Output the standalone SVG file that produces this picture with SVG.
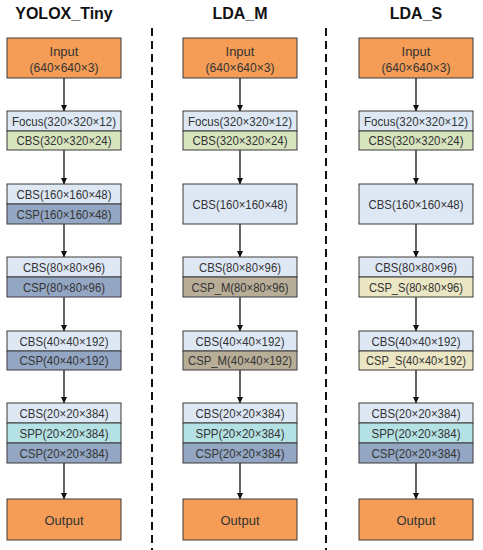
<svg xmlns="http://www.w3.org/2000/svg" width="483" height="550" viewBox="0 0 483 550">
<style>
.t{font-family:"Liberation Sans",Arial,sans-serif;font-size:13px;fill:#333;text-anchor:middle;dominant-baseline:central}
.h{font-family:"Liberation Sans",Arial,sans-serif;font-size:16px;font-weight:bold;fill:#111;text-anchor:middle}
.b{stroke:#3a3a3a;stroke-width:1}
.or{fill:#F59D56}.lb{fill:#DEE8F5}.gr{fill:#D8E4BE}.cs{fill:#93A7C4}.sp{fill:#B4E1E3}.cm{fill:#B8AD97}.cv{fill:#EBE6C4}
.c{stroke:#111;stroke-width:1.3;fill:none;marker-end:url(#a)}
.d{stroke:#111;stroke-width:2;stroke-dasharray:8,5}
</style>
<defs><marker id="a" markerWidth="7" markerHeight="7" refX="6" refY="3.5" orient="auto" markerUnits="userSpaceOnUse"><path d="M0,0.5L6.5,3.5L0,6.5z" fill="#111"/></marker></defs>
<rect width="483" height="550" fill="#fff"/>
<g id="titles">
<text class="h" x="64" y="19">YOLOX_Tiny</text>
<text class="h" x="240" y="19">LDA_M</text>
<text class="h" x="416" y="19">LDA_S</text>
</g>
<g id="dividers">
<line class="d" x1="152" y1="28" x2="152" y2="550"/>
<line class="d" x1="326" y1="28" x2="326" y2="550"/>
</g>
<g id="connectors">
<line class="c" x1="64" y1="78" x2="64" y2="111"/>
<line class="c" x1="64" y1="150" x2="64" y2="184"/>
<line class="c" x1="64" y1="224" x2="64" y2="257"/>
<line class="c" x1="64" y1="297" x2="64" y2="331"/>
<line class="c" x1="64" y1="370" x2="64" y2="403"/>
<line class="c" x1="64" y1="463" x2="64" y2="499"/>
<line class="c" x1="240" y1="78" x2="240" y2="111"/>
<line class="c" x1="240" y1="150" x2="240" y2="184"/>
<line class="c" x1="240" y1="224" x2="240" y2="257"/>
<line class="c" x1="240" y1="297" x2="240" y2="331"/>
<line class="c" x1="240" y1="370" x2="240" y2="403"/>
<line class="c" x1="240" y1="463" x2="240" y2="499"/>
<line class="c" x1="416" y1="78" x2="416" y2="111"/>
<line class="c" x1="416" y1="150" x2="416" y2="184"/>
<line class="c" x1="416" y1="224" x2="416" y2="257"/>
<line class="c" x1="416" y1="297" x2="416" y2="331"/>
<line class="c" x1="416" y1="370" x2="416" y2="403"/>
<line class="c" x1="416" y1="463" x2="416" y2="499"/>
</g>
<!-- Column 1 -->
<g id="y_input"><rect class="b or" x="7" y="38" width="114" height="40"/><text class="t" x="64" y="51">Input</text><text class="t" x="64" y="67" textLength="69" lengthAdjust="spacingAndGlyphs">(640×640×3)</text></g>
<g id="y_stem"><rect class="b lb" x="7" y="111" width="114" height="20"/><rect class="b gr" x="7" y="131" width="114" height="19"/><text class="t" x="64" y="121" textLength="104" lengthAdjust="spacingAndGlyphs">Focus(320×320×12)</text><text class="t" x="64" y="140.5" textLength="95" lengthAdjust="spacingAndGlyphs">CBS(320×320×24)</text></g>
<g id="y_s2"><rect class="b lb" x="7" y="184" width="114" height="20"/><rect class="b cs" x="7" y="204" width="114" height="20"/><text class="t" x="64" y="194" textLength="95" lengthAdjust="spacingAndGlyphs">CBS(160×160×48)</text><text class="t" x="64" y="214" textLength="95" lengthAdjust="spacingAndGlyphs">CSP(160×160×48)</text></g>
<g id="y_s3"><rect class="b lb" x="7" y="257" width="114" height="20"/><rect class="b cs" x="7" y="277" width="114" height="20"/><text class="t" x="64" y="267" textLength="82" lengthAdjust="spacingAndGlyphs">CBS(80×80×96)</text><text class="t" x="64" y="287" textLength="82" lengthAdjust="spacingAndGlyphs">CSP(80×80×96)</text></g>
<g id="y_s4"><rect class="b lb" x="7" y="331" width="114" height="20"/><rect class="b cs" x="7" y="351" width="114" height="19"/><text class="t" x="64" y="341" textLength="89" lengthAdjust="spacingAndGlyphs">CBS(40×40×192)</text><text class="t" x="64" y="360.5" textLength="89" lengthAdjust="spacingAndGlyphs">CSP(40×40×192)</text></g>
<g id="y_s5"><rect class="b lb" x="7" y="403" width="114" height="20"/><rect class="b sp" x="7" y="423" width="114" height="20"/><rect class="b cs" x="7" y="443" width="114" height="20"/><text class="t" x="64" y="413" textLength="89" lengthAdjust="spacingAndGlyphs">CBS(20×20×384)</text><text class="t" x="64" y="433" textLength="89" lengthAdjust="spacingAndGlyphs">SPP(20×20×384)</text><text class="t" x="64" y="453" textLength="89" lengthAdjust="spacingAndGlyphs">CSP(20×20×384)</text></g>
<g id="y_output"><rect class="b or" x="7" y="499" width="114" height="41"/><text class="t" x="64" y="520">Output</text></g>
<!-- Column 2 -->
<g id="m_input"><rect class="b or" x="183" y="38" width="114" height="40"/><text class="t" x="240" y="51">Input</text><text class="t" x="240" y="67" textLength="69" lengthAdjust="spacingAndGlyphs">(640×640×3)</text></g>
<g id="m_stem"><rect class="b lb" x="183" y="111" width="114" height="20"/><rect class="b gr" x="183" y="131" width="114" height="19"/><text class="t" x="240" y="121" textLength="104" lengthAdjust="spacingAndGlyphs">Focus(320×320×12)</text><text class="t" x="240" y="140.5" textLength="95" lengthAdjust="spacingAndGlyphs">CBS(320×320×24)</text></g>
<g id="m_s2"><rect class="b lb" x="183" y="184" width="114" height="40"/><text class="t" x="240" y="204" textLength="95" lengthAdjust="spacingAndGlyphs">CBS(160×160×48)</text></g>
<g id="m_s3"><rect class="b lb" x="183" y="257" width="114" height="20"/><rect class="b cm" x="183" y="277" width="114" height="20"/><text class="t" x="240" y="267" textLength="82" lengthAdjust="spacingAndGlyphs">CBS(80×80×96)</text><text class="t" x="240" y="287" textLength="97" lengthAdjust="spacingAndGlyphs">CSP_M(80×80×96)</text></g>
<g id="m_s4"><rect class="b lb" x="183" y="331" width="114" height="20"/><rect class="b cm" x="183" y="351" width="114" height="19"/><text class="t" x="240" y="341" textLength="89" lengthAdjust="spacingAndGlyphs">CBS(40×40×192)</text><text class="t" x="240" y="360.5" textLength="104" lengthAdjust="spacingAndGlyphs">CSP_M(40×40×192)</text></g>
<g id="m_s5"><rect class="b lb" x="183" y="403" width="114" height="20"/><rect class="b sp" x="183" y="423" width="114" height="20"/><rect class="b cs" x="183" y="443" width="114" height="20"/><text class="t" x="240" y="413" textLength="89" lengthAdjust="spacingAndGlyphs">CBS(20×20×384)</text><text class="t" x="240" y="433" textLength="89" lengthAdjust="spacingAndGlyphs">SPP(20×20×384)</text><text class="t" x="240" y="453" textLength="89" lengthAdjust="spacingAndGlyphs">CSP(20×20×384)</text></g>
<g id="m_output"><rect class="b or" x="183" y="499" width="114" height="41"/><text class="t" x="240" y="520">Output</text></g>
<!-- Column 3 -->
<g id="s_input"><rect class="b or" x="359" y="38" width="114" height="40"/><text class="t" x="416" y="51">Input</text><text class="t" x="416" y="67" textLength="69" lengthAdjust="spacingAndGlyphs">(640×640×3)</text></g>
<g id="s_stem"><rect class="b lb" x="359" y="111" width="114" height="20"/><rect class="b gr" x="359" y="131" width="114" height="19"/><text class="t" x="416" y="121" textLength="104" lengthAdjust="spacingAndGlyphs">Focus(320×320×12)</text><text class="t" x="416" y="140.5" textLength="95" lengthAdjust="spacingAndGlyphs">CBS(320×320×24)</text></g>
<g id="s_s2"><rect class="b lb" x="359" y="184" width="114" height="40"/><text class="t" x="416" y="204" textLength="95" lengthAdjust="spacingAndGlyphs">CBS(160×160×48)</text></g>
<g id="s_s3"><rect class="b lb" x="359" y="257" width="114" height="20"/><rect class="b cv" x="359" y="277" width="114" height="20"/><text class="t" x="416" y="267" textLength="82" lengthAdjust="spacingAndGlyphs">CBS(80×80×96)</text><text class="t" x="416" y="287" textLength="94" lengthAdjust="spacingAndGlyphs">CSP_S(80×80×96)</text></g>
<g id="s_s4"><rect class="b lb" x="359" y="331" width="114" height="20"/><rect class="b cv" x="359" y="351" width="114" height="19"/><text class="t" x="416" y="341" textLength="89" lengthAdjust="spacingAndGlyphs">CBS(40×40×192)</text><text class="t" x="416" y="360.5" textLength="100" lengthAdjust="spacingAndGlyphs">CSP_S(40×40×192)</text></g>
<g id="s_s5"><rect class="b lb" x="359" y="403" width="114" height="20"/><rect class="b sp" x="359" y="423" width="114" height="20"/><rect class="b cs" x="359" y="443" width="114" height="20"/><text class="t" x="416" y="413" textLength="89" lengthAdjust="spacingAndGlyphs">CBS(20×20×384)</text><text class="t" x="416" y="433" textLength="89" lengthAdjust="spacingAndGlyphs">SPP(20×20×384)</text><text class="t" x="416" y="453" textLength="89" lengthAdjust="spacingAndGlyphs">CSP(20×20×384)</text></g>
<g id="s_output"><rect class="b or" x="359" y="499" width="114" height="41"/><text class="t" x="416" y="520">Output</text></g>
</svg>
